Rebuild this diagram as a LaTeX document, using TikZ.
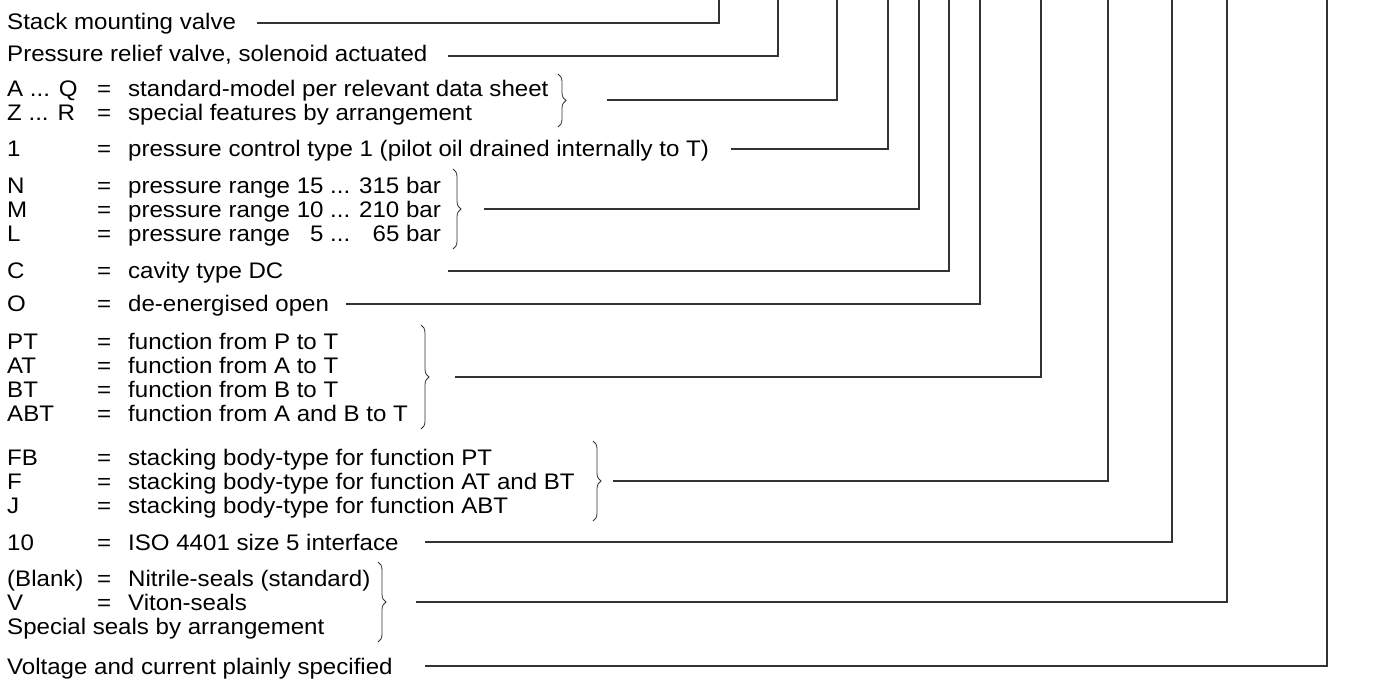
\documentclass[tikz,border=0pt]{standalone}
\usepackage{fontspec}
\setmainfont{Liberation Sans}[FakeStretch=1.07]
\usetikzlibrary{decorations.pathreplacing}
\begin{document}
\begin{tikzpicture}[x=1pt,y=-1pt,
  txt/.style={anchor=west, inner sep=0pt, text height=16pt, text depth=0pt, font=\fontsize{22.5}{24}\selectfont},
  ln/.style={line width=1.1pt, draw=black!80},
  brc/.style={line width=0.8pt, draw=black!80, decorate, decoration={brace, amplitude=8pt}}]
\useasboundingbox (0,0) rectangle (1373,680);
\fill[white] (0,0) rectangle (1373,680);

% single rows
\node[txt] (stack) at (7,21) {Stack mounting valve};
\node[txt] (relief) at (7,53) {Pressure relief valve, solenoid actuated};

\node[txt] (aq) at (7,88) {A ... Q};
\node[txt] (aqe) at (97,88) {=};
\node[txt] (aqd) at (128,88) {standard-model per relevant data sheet};
\node[txt] (zr) at (7,112) {Z ... R};
\node[txt] (zre) at (97,112) {=};
\node[txt] (zrd) at (128,112) {special features by arrangement};

\node[txt] (one) at (7,148) {1};
\node[txt] (onee) at (97,148) {=};
\node[txt] (oned) at (128,148) {pressure control type 1 (pilot oil drained internally to T)};

\node[txt] (n) at (7,185) {N};
\node[txt] (ne) at (97,185) {=};
\node[txt] (nd) at (128,185) {pressure range 15 ... 315 bar};
\node[txt] (m) at (7,209) {M};
\node[txt] (me) at (97,209) {=};
\node[txt] (md) at (128,209) {pressure range 10 ... 210 bar};
\node[txt] (l) at (7,233) {L};
\node[txt] (le) at (97,233) {=};
\node[txt] (ld) at (128,233) {pressure range \hphantom{1}5 ... \hphantom{2}65 bar};

\node[txt] (c) at (7,270) {C};
\node[txt] (ce) at (97,270) {=};
\node[txt] (cd) at (128,270) {cavity type DC};

\node[txt] (o) at (7,303) {O};
\node[txt] (oe) at (97,303) {=};
\node[txt] (od) at (128,303) {de-energised open};

\node[txt] (pt) at (7,341) {PT};
\node[txt] (pte) at (97,341) {=};
\node[txt] (ptd) at (128,341) {function from P to T};
\node[txt] (at) at (7,365) {AT};
\node[txt] (ate) at (97,365) {=};
\node[txt] (atd) at (128,365) {function from A to T};
\node[txt] (bt) at (7,389) {BT};
\node[txt] (bte) at (97,389) {=};
\node[txt] (btd) at (128,389) {function from B to T};
\node[txt] (abt) at (7,413) {ABT};
\node[txt] (abte) at (97,413) {=};
\node[txt] (abtd) at (128,413) {function from A and B to T};

\node[txt] (fb) at (7,457) {FB};
\node[txt] (fbe) at (97,457) {=};
\node[txt] (fbd) at (128,457) {stacking body-type for function PT};
\node[txt] (f) at (7,481) {F};
\node[txt] (fe) at (97,481) {=};
\node[txt] (fd) at (128,481) {stacking body-type for function AT and BT};
\node[txt] (j) at (7,505) {J};
\node[txt] (je) at (97,505) {=};
\node[txt] (jd) at (128,505) {stacking body-type for function ABT};

\node[txt] (ten) at (7,542) {10};
\node[txt] (tene) at (97,542) {=};
\node[txt] (tend) at (128,542) {ISO 4401 size 5 interface};

\node[txt] (blank) at (7,578) {(Blank)};
\node[txt] (blanke) at (97,578) {=};
\node[txt] (blankd) at (128,578) {Nitrile-seals (standard)};
\node[txt] (v) at (7,602) {V};
\node[txt] (ve) at (97,602) {=};
\node[txt] (vd) at (128,602) {Viton-seals};
\node[txt] (spec) at (7,626) {Special seals by arrangement};

\node[txt] (volt) at (7,666) {Voltage and current plainly specified};

% braces
\draw[brc] (558,74) -- (558,127);
\draw[brc] (453,169) -- (453,249);
\draw[brc] (421,325) -- (421,429);
\draw[brc] (593,441) -- (593,521);
\draw[brc] (378,562) -- (378,642);

% connector starts
\coordinate (s1) at (257,23);
\coordinate (s2) at (448,56);
\coordinate (s3) at (607,100);
\coordinate (s4) at (731,149);
\coordinate (s5) at (484,209);
\coordinate (s6) at (448,271);
\coordinate (s7) at (346,304);
\coordinate (s8) at (455,377);
\coordinate (s9) at (613,481);
\coordinate (s10) at (425,542);
\coordinate (s11) at (416,602);
\coordinate (s12) at (425,666);
% top ends
\coordinate (e1) at (719,0);
\coordinate (e2) at (778,0);
\coordinate (e3) at (837,0);
\coordinate (e4) at (888,0);
\coordinate (e5) at (919,0);
\coordinate (e6) at (949,0);
\coordinate (e7) at (980,0);
\coordinate (e8) at (1041,0);
\coordinate (e9) at (1108,0);
\coordinate (e10) at (1172,0);
\coordinate (e11) at (1227,0);
\coordinate (e12) at (1327,0);

\foreach \i in {1,...,12} { \draw[ln] (s\i) -| (e\i); }
\end{tikzpicture}
\end{document}
